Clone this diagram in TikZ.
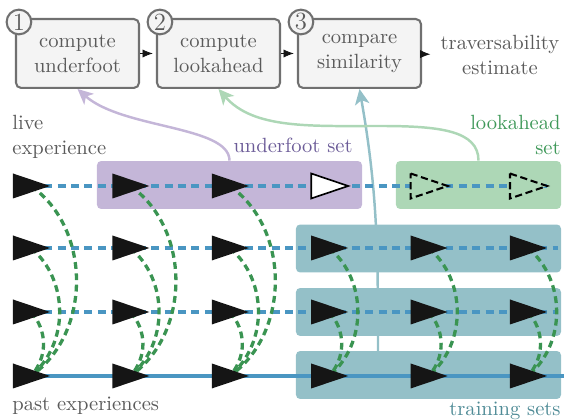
\documentclass[tikz,border=0pt]{standalone}
\usetikzlibrary{arrows.meta}

\definecolor{boxgray}{HTML}{F4F4F4}
\definecolor{edgegray}{HTML}{707070}
\definecolor{textgray}{HTML}{5A5A5A}
\definecolor{underfootfill}{HTML}{C4B6D8}
\definecolor{underfoottext}{HTML}{6C5C98}
\definecolor{lookfill}{HTML}{ADD7B6}
\definecolor{looktext}{HTML}{40995A}
\definecolor{trainfill}{HTML}{94C0C8}
\definecolor{traintext}{HTML}{4F8B96}
\definecolor{pathblue}{HTML}{4A96C2}
\definecolor{matchgreen}{HTML}{3A9452}
\definecolor{agentblack}{HTML}{151515}

\tikzset{
  stagebox/.style={draw=edgegray, fill=boxgray, line width=1pt, rounded corners=2.5pt,
    minimum width=59.8pt, minimum height=33.5pt, align=center, text=textgray},
  stagenum/.style={circle, draw=edgegray, fill=boxgray, line width=1pt, inner sep=0pt,
    minimum size=12pt, text=textgray, font=\large},
  setbox/.style={rounded corners=2pt, minimum height=23.3pt, inner sep=0pt},
  flow/.style={-{Latex[length=5pt,width=4pt]}, agentblack, shorten >=1.5pt},
  feed/.style={line width=1.2pt, -{Stealth[length=7.5pt,width=7pt,inset=2pt]}},
  trail/.style={pathblue, line width=1.7pt, dash pattern=on 3.8pt off 2.7pt},
  match/.style={matchgreen, line width=1.6pt, dash pattern=on 3.3pt off 2.2pt},
  ghost/.style={draw=black, line width=1pt, dash pattern=on 3.5pt off 1.8pt}
}

% one pose triangle, centred on a named coordinate
\newcommand{\agent}[2]{\path[#1] (#2) ++(-18,-12.5) -- ++(37,12.5) -- ++(-37,12.5) -- cycle;}

\begin{document}
\begin{tikzpicture}[x=0.486pt, y=-0.486pt]
  \useasboundingbox (0,0) rectangle (564,420);
  \def\colstep{99.4}

  % Pipeline stages
  \node[stagebox] (underfoot) at (77.5,53.5) {compute\\underfoot};
  \node[stagebox] (lookahead) at (218.5,53.5) {compute\\lookahead};
  \node[stagebox] (compare) at (359.5,53.5) {compare\\similarity};
  \node[text=textgray, align=center] (estimate) at (500,55) {traversability\\estimate};
  \node[stagenum] (n1) at ([shift={(4,4)}]underfoot.north west) {1};
  \node[stagenum] (n2) at ([shift={(4,4)}]lookahead.north west) {2};
  \node[stagenum] (n3) at ([shift={(4,4)}]compare.north west) {3};
  \draw[flow] (underfoot) -- (lookahead);
  \draw[flow] (lookahead) -- (compare);
  \draw[flow] (compare) -- (estimate);

  % Triangle positions, rows = experiences
  \foreach \r/\y in {1/186,2/248,3/312,4/376} {
    \foreach \c in {1,...,6} {
      \coordinate (a\r\c) at ({31+(\c-1)*\colstep},\y);
    }
  }
  \coordinate (e1) at (547,186);
  \coordinate (e2) at (558,248);
  \coordinate (e3) at (558,312);
  \coordinate (e4) at (564,376);
  \coordinate (tfoot) at (378,375);

  % Training feed goes behind the sets
  \draw[feed, trainfill] (tfoot) to[out=90,in=-80] (compare.south);

  % Sets
  \node[setbox, fill=underfootfill, minimum width=128.8pt] (uset) at (229.5,185) {};
  \node[setbox, fill=lookfill, minimum width=80.2pt] (lset) at (478.5,185) {};
  \foreach \i/\y in {1/248.5,2/312,3/375}
    \node[setbox, fill=trainfill, minimum width=128.8pt] (tset\i) at (428.5,\y) {};

  \draw[feed, underfootfill] (uset.north) .. controls +(0,-35) and +(45,40) .. (underfoot.south);
  \draw[feed, lookfill] (lset.north) .. controls +(0,-30) and +(60,0) .. (380,126)
    .. controls +(-70,0) and +(35,40) .. (lookahead.south);

  % Labels
  \node[anchor=north west, inner sep=0pt, align=left, text=textgray] (livelabel) at (12,115) {live\\experience};
  \node[anchor=base east, inner sep=0pt, text=underfoottext] (ulabel) at (353,153) {underfoot set};
  \node[anchor=north east, inner sep=0pt, align=right, text=looktext] (llabel) at (561,115) {lookahead\\set};
  \node[anchor=base east, inner sep=0pt, text=traintext] (tlabel) at (561,416) {training sets};
  \node[anchor=base west, inner sep=0pt, text=textgray] (plabel) at (12,411) {past experiences};

  % Paths
  \draw[trail] (a11) -- (e1);
  \draw[trail] (a21) -- (e2);
  \draw[trail] (a31) -- (e3);
  \draw[pathblue, line width=1.7pt] (a41) -- (e4);

  % Matches to the reference experience
  \foreach \c in {1,2,3}
    \draw[match] (a1\c) to[bend left=55] (a4\c);
  \foreach \c in {1,...,6} {
    \draw[match] (a2\c) to[bend left=50] (a4\c);
    \draw[match] (a3\c) to[bend left=42] (a4\c);
  }

  % Poses
  \foreach \c in {1,2,3} {\agent{fill=agentblack}{a1\c}}
  \agent{fill=white, draw=black, line width=0.8pt}{a14}
  \foreach \c in {5,6} {\agent{fill=lookfill, ghost}{a1\c}}
  \foreach \r in {2,3,4} {
    \foreach \c in {1,...,6} {\agent{fill=agentblack}{a\r\c}}
  }
\end{tikzpicture}
\end{document}
